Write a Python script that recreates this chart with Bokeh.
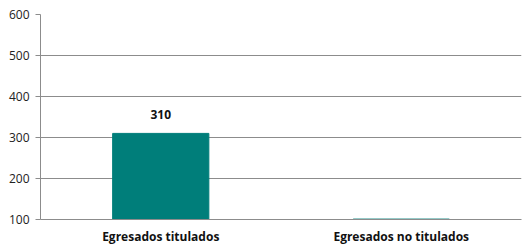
from bokeh.plotting import figure
from bokeh.models import Range1d, FixedTicker, ColumnDataSource, LabelSet
from bokeh.core.properties import value
from bokeh.embed import file_html
from bokeh.resources import INLINE

categories = ["Egresados titulados", "Egresados no titulados"]
values = [310, 101]
labels = ["310", ""]
y_ticks = [100, 200, 300, 400, 500, 600]

src = ColumnDataSource(dict(cat=categories, val=values, lab=labels,
                            base=[100] * len(values)))

p = figure(x_range=categories, y_range=Range1d(100, 600), width=523, height=247,
           output_backend="svg", toolbar_location=None,
           min_border_left=40, min_border_right=2, min_border_top=14, min_border_bottom=0)
p.outline_line_color = None
p.background_fill_color = "white"

p.vbar(x="cat", top="val", bottom="base", width=0.4, source=src,
       fill_color="#007E7A", line_color="#007E7A")

p.add_layout(LabelSet(x="cat", y="val", text="lab", source=src, y_offset=14,
                      text_align="center", text_font=value("Open Sans"),
                      text_font_size="12px", text_font_style="bold",
                      text_color="#111111"))

p.yaxis.ticker = FixedTicker(ticks=y_ticks)
p.ygrid.ticker = FixedTicker(ticks=y_ticks)
p.ygrid.grid_line_color = "#8c8c8c"
p.ygrid.grid_line_width = 1
p.xgrid.grid_line_color = None

p.yaxis.axis_line_color = "#8c8c8c"
p.yaxis.major_tick_line_color = "#8c8c8c"
p.yaxis.major_tick_out = 5
p.yaxis.major_tick_in = 0
p.yaxis.minor_tick_line_color = None
p.yaxis.major_label_text_font = "Open Sans"
p.yaxis.major_label_text_font_size = "12px"
p.yaxis.major_label_text_color = "#222222"
p.yaxis.major_label_standoff = 6

p.xaxis.axis_line_color = "#8c8c8c"
p.xaxis.major_tick_line_color = None
p.xaxis.major_tick_out = 0
p.xaxis.minor_tick_line_color = None
p.xaxis.major_label_text_font = "Open Sans"
p.xaxis.major_label_text_font_size = "12px"
p.xaxis.major_label_text_font_style = "bold"
p.xaxis.major_label_text_color = "#111111"
p.xaxis.major_label_standoff = 8

open("out.html", "w").write(file_html(p, INLINE))
